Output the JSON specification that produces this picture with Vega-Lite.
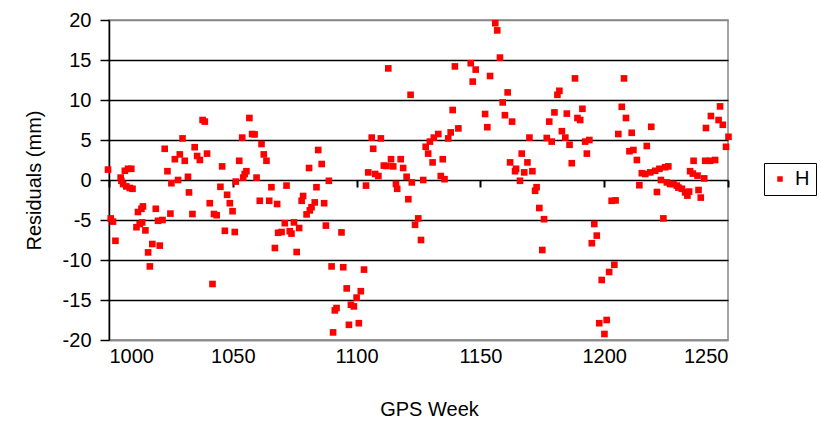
{
  "$schema": "https://vega.github.io/schema/vega-lite/v6.json",
  "width": 619,
  "height": 320,
  "autosize": {"type": "none"},
  "padding": {"left": 109, "top": 20, "right": 93, "bottom": 84},
  "background": "#ffffff",
  "config": {
    "font": "Liberation Sans",
    "view": {"stroke": "#888888", "strokeWidth": 1.5}
  },
  "data": {
    "values": [
      {"week": 999.6, "res": 1.3, "series": "H"},
      {"week": 1000.7, "res": -4.8, "series": "H"},
      {"week": 1001.6, "res": -5.2, "series": "H"},
      {"week": 1002.6, "res": -7.6, "series": "H"},
      {"week": 1004.7, "res": 0.3, "series": "H"},
      {"week": 1005.0, "res": -0.1, "series": "H"},
      {"week": 1005.7, "res": -0.5, "series": "H"},
      {"week": 1006.4, "res": 1.15, "series": "H"},
      {"week": 1007.0, "res": -0.8, "series": "H"},
      {"week": 1007.7, "res": 1.4, "series": "H"},
      {"week": 1008.4, "res": -1.0, "series": "H"},
      {"week": 1009.0, "res": 1.4, "series": "H"},
      {"week": 1009.5, "res": -1.1, "series": "H"},
      {"week": 1011.1, "res": -5.9, "series": "H"},
      {"week": 1011.7, "res": -4.0, "series": "H"},
      {"week": 1012.4, "res": -5.5, "series": "H"},
      {"week": 1013.1, "res": -3.6, "series": "H"},
      {"week": 1013.4, "res": -5.3, "series": "H"},
      {"week": 1013.7, "res": -3.3, "series": "H"},
      {"week": 1014.7, "res": -6.3, "series": "H"},
      {"week": 1015.8, "res": -9.05, "series": "H"},
      {"week": 1016.5, "res": -10.8, "series": "H"},
      {"week": 1017.5, "res": -8.0, "series": "H"},
      {"week": 1018.9, "res": -3.6, "series": "H"},
      {"week": 1019.8, "res": -5.1, "series": "H"},
      {"week": 1020.5, "res": -8.2, "series": "H"},
      {"week": 1021.6, "res": -5.0, "series": "H"},
      {"week": 1022.5, "res": 3.9, "series": "H"},
      {"week": 1023.6, "res": 1.1, "series": "H"},
      {"week": 1024.8, "res": -4.2, "series": "H"},
      {"week": 1025.2, "res": -0.4, "series": "H"},
      {"week": 1026.6, "res": 2.6, "series": "H"},
      {"week": 1027.9, "res": 0.0, "series": "H"},
      {"week": 1028.6, "res": 3.2, "series": "H"},
      {"week": 1029.7, "res": 5.2, "series": "H"},
      {"week": 1030.6, "res": 2.4, "series": "H"},
      {"week": 1031.9, "res": 0.4, "series": "H"},
      {"week": 1032.3, "res": -1.55, "series": "H"},
      {"week": 1033.7, "res": -4.25, "series": "H"},
      {"week": 1034.6, "res": 4.1, "series": "H"},
      {"week": 1035.6, "res": 3.0, "series": "H"},
      {"week": 1036.7, "res": 2.5, "series": "H"},
      {"week": 1037.8, "res": 7.5, "series": "H"},
      {"week": 1038.7, "res": 7.3, "series": "H"},
      {"week": 1039.6, "res": 3.3, "series": "H"},
      {"week": 1040.7, "res": -2.9, "series": "H"},
      {"week": 1041.8, "res": -13.0, "series": "H"},
      {"week": 1042.4, "res": -4.25, "series": "H"},
      {"week": 1043.5, "res": -4.4, "series": "H"},
      {"week": 1045.0, "res": -0.85, "series": "H"},
      {"week": 1045.7, "res": 1.7, "series": "H"},
      {"week": 1046.8, "res": -6.35, "series": "H"},
      {"week": 1047.7, "res": -1.85, "series": "H"},
      {"week": 1048.8, "res": -2.9, "series": "H"},
      {"week": 1049.9, "res": -3.9, "series": "H"},
      {"week": 1050.8, "res": -6.5, "series": "H"},
      {"week": 1051.2, "res": -0.2, "series": "H"},
      {"week": 1052.6, "res": 2.4, "series": "H"},
      {"week": 1053.8, "res": 5.3, "series": "H"},
      {"week": 1054.2, "res": 0.3, "series": "H"},
      {"week": 1054.8, "res": 0.75, "series": "H"},
      {"week": 1055.5, "res": 1.1, "series": "H"},
      {"week": 1056.7, "res": 7.75, "series": "H"},
      {"week": 1057.8, "res": 5.75, "series": "H"},
      {"week": 1058.8, "res": 5.7, "series": "H"},
      {"week": 1059.6, "res": 0.3, "series": "H"},
      {"week": 1060.9, "res": -2.6, "series": "H"},
      {"week": 1061.6, "res": 4.5, "series": "H"},
      {"week": 1062.5, "res": 3.2, "series": "H"},
      {"week": 1063.6, "res": 2.4, "series": "H"},
      {"week": 1064.7, "res": -2.6, "series": "H"},
      {"week": 1065.6, "res": -0.9, "series": "H"},
      {"week": 1067.0, "res": -8.5, "series": "H"},
      {"week": 1067.9, "res": -3.0, "series": "H"},
      {"week": 1068.3, "res": -6.6, "series": "H"},
      {"week": 1069.7, "res": -6.5, "series": "H"},
      {"week": 1071.0, "res": -5.4, "series": "H"},
      {"week": 1071.7, "res": -0.7, "series": "H"},
      {"week": 1073.0, "res": -6.4, "series": "H"},
      {"week": 1073.7, "res": -6.7, "series": "H"},
      {"week": 1074.7, "res": -5.3, "series": "H"},
      {"week": 1075.8, "res": -9.0, "series": "H"},
      {"week": 1076.8, "res": -6.0, "series": "H"},
      {"week": 1077.8, "res": -2.6, "series": "H"},
      {"week": 1078.4, "res": -2.0, "series": "H"},
      {"week": 1079.8, "res": -4.3, "series": "H"},
      {"week": 1080.8, "res": 1.5, "series": "H"},
      {"week": 1081.1, "res": -3.8, "series": "H"},
      {"week": 1081.8, "res": -3.4, "series": "H"},
      {"week": 1083.1, "res": -2.8, "series": "H"},
      {"week": 1083.8, "res": -0.9, "series": "H"},
      {"week": 1084.5, "res": 3.75, "series": "H"},
      {"week": 1085.9, "res": 2.0, "series": "H"},
      {"week": 1086.9, "res": -2.9, "series": "H"},
      {"week": 1087.6, "res": -5.7, "series": "H"},
      {"week": 1088.8, "res": -0.1, "series": "H"},
      {"week": 1089.9, "res": -10.8, "series": "H"},
      {"week": 1090.5, "res": -19.05, "series": "H"},
      {"week": 1091.2, "res": -16.3, "series": "H"},
      {"week": 1091.9, "res": -16.0, "series": "H"},
      {"week": 1093.9, "res": -6.55, "series": "H"},
      {"week": 1094.6, "res": -10.9, "series": "H"},
      {"week": 1096.0, "res": -13.55, "series": "H"},
      {"week": 1096.9, "res": -18.1, "series": "H"},
      {"week": 1097.7, "res": -15.6, "series": "H"},
      {"week": 1098.9, "res": -15.8, "series": "H"},
      {"week": 1100.0, "res": -14.7, "series": "H"},
      {"week": 1100.9, "res": -17.9, "series": "H"},
      {"week": 1101.7, "res": -13.9, "series": "H"},
      {"week": 1103.0, "res": -11.2, "series": "H"},
      {"week": 1103.8, "res": -0.7, "series": "H"},
      {"week": 1104.7, "res": 0.95, "series": "H"},
      {"week": 1106.1, "res": 5.3, "series": "H"},
      {"week": 1106.7, "res": 3.9, "series": "H"},
      {"week": 1107.5, "res": 0.75, "series": "H"},
      {"week": 1108.8, "res": 0.5, "series": "H"},
      {"week": 1109.8, "res": 5.2, "series": "H"},
      {"week": 1111.0, "res": 1.8, "series": "H"},
      {"week": 1112.1, "res": 1.75, "series": "H"},
      {"week": 1112.8, "res": 13.95, "series": "H"},
      {"week": 1113.9, "res": 2.6, "series": "H"},
      {"week": 1114.8, "res": 1.7, "series": "H"},
      {"week": 1115.9, "res": -0.5, "series": "H"},
      {"week": 1116.4, "res": -1.1, "series": "H"},
      {"week": 1117.8, "res": 2.6, "series": "H"},
      {"week": 1118.8, "res": 1.5, "series": "H"},
      {"week": 1120.2, "res": 0.4, "series": "H"},
      {"week": 1120.9, "res": -2.4, "series": "H"},
      {"week": 1121.8, "res": 10.65, "series": "H"},
      {"week": 1122.3, "res": -0.3, "series": "H"},
      {"week": 1123.6, "res": -5.6, "series": "H"},
      {"week": 1124.9, "res": -4.8, "series": "H"},
      {"week": 1126.0, "res": -7.5, "series": "H"},
      {"week": 1126.9, "res": 0.0, "series": "H"},
      {"week": 1127.9, "res": 4.15, "series": "H"},
      {"week": 1128.9, "res": 3.3, "series": "H"},
      {"week": 1129.6, "res": 4.8, "series": "H"},
      {"week": 1130.7, "res": 2.2, "series": "H"},
      {"week": 1131.2, "res": 5.3, "series": "H"},
      {"week": 1133.0, "res": 5.75, "series": "H"},
      {"week": 1134.0, "res": 0.5, "series": "H"},
      {"week": 1134.8, "res": 2.6, "series": "H"},
      {"week": 1135.5, "res": 0.1, "series": "H"},
      {"week": 1137.0, "res": 5.2, "series": "H"},
      {"week": 1138.0, "res": 5.95, "series": "H"},
      {"week": 1138.8, "res": 8.75, "series": "H"},
      {"week": 1139.7, "res": 14.2, "series": "H"},
      {"week": 1141.1, "res": 6.45, "series": "H"},
      {"week": 1146.1, "res": 14.6, "series": "H"},
      {"week": 1146.9, "res": 12.3, "series": "H"},
      {"week": 1148.1, "res": 13.8, "series": "H"},
      {"week": 1151.9, "res": 8.25, "series": "H"},
      {"week": 1152.8, "res": 6.6, "series": "H"},
      {"week": 1153.9, "res": 13.0, "series": "H"},
      {"week": 1156.0, "res": 19.6, "series": "H"},
      {"week": 1156.8, "res": 18.7, "series": "H"},
      {"week": 1157.9, "res": 15.3, "series": "H"},
      {"week": 1159.0, "res": 9.7, "series": "H"},
      {"week": 1159.9, "res": 8.1, "series": "H"},
      {"week": 1161.0, "res": 10.95, "series": "H"},
      {"week": 1162.0, "res": 2.2, "series": "H"},
      {"week": 1162.8, "res": 7.3, "series": "H"},
      {"week": 1164.0, "res": 1.1, "series": "H"},
      {"week": 1164.4, "res": 1.4, "series": "H"},
      {"week": 1166.0, "res": -0.1, "series": "H"},
      {"week": 1166.7, "res": 3.3, "series": "H"},
      {"week": 1167.7, "res": 0.95, "series": "H"},
      {"week": 1169.0, "res": 2.2, "series": "H"},
      {"week": 1169.8, "res": 5.3, "series": "H"},
      {"week": 1171.0, "res": 1.1, "series": "H"},
      {"week": 1172.1, "res": -1.35, "series": "H"},
      {"week": 1172.7, "res": -0.9, "series": "H"},
      {"week": 1173.8, "res": -3.5, "series": "H"},
      {"week": 1175.0, "res": -8.75, "series": "H"},
      {"week": 1175.7, "res": -4.9, "series": "H"},
      {"week": 1176.8, "res": 5.25, "series": "H"},
      {"week": 1177.8, "res": 7.3, "series": "H"},
      {"week": 1178.8, "res": 4.8, "series": "H"},
      {"week": 1179.9, "res": 8.45, "series": "H"},
      {"week": 1181.1, "res": 10.65, "series": "H"},
      {"week": 1181.9, "res": 11.15, "series": "H"},
      {"week": 1182.9, "res": 6.1, "series": "H"},
      {"week": 1184.3, "res": 5.3, "series": "H"},
      {"week": 1184.9, "res": 8.3, "series": "H"},
      {"week": 1186.0, "res": 4.4, "series": "H"},
      {"week": 1186.9, "res": 2.1, "series": "H"},
      {"week": 1188.2, "res": 12.7, "series": "H"},
      {"week": 1189.2, "res": 7.75, "series": "H"},
      {"week": 1190.3, "res": 7.5, "series": "H"},
      {"week": 1191.2, "res": 8.9, "series": "H"},
      {"week": 1192.3, "res": 4.8, "series": "H"},
      {"week": 1193.0, "res": 3.3, "series": "H"},
      {"week": 1194.0, "res": 5.0, "series": "H"},
      {"week": 1195.0, "res": -7.9, "series": "H"},
      {"week": 1196.0, "res": -5.5, "series": "H"},
      {"week": 1197.0, "res": -6.95, "series": "H"},
      {"week": 1198.0, "res": -17.9, "series": "H"},
      {"week": 1199.0, "res": -12.5, "series": "H"},
      {"week": 1200.1, "res": -19.25, "series": "H"},
      {"week": 1201.0, "res": -17.5, "series": "H"},
      {"week": 1202.0, "res": -11.5, "series": "H"},
      {"week": 1203.0, "res": -2.6, "series": "H"},
      {"week": 1204.1, "res": -10.6, "series": "H"},
      {"week": 1204.6, "res": -2.55, "series": "H"},
      {"week": 1205.7, "res": 5.75, "series": "H"},
      {"week": 1207.1, "res": 9.15, "series": "H"},
      {"week": 1208.0, "res": 12.7, "series": "H"},
      {"week": 1208.8, "res": 7.75, "series": "H"},
      {"week": 1210.2, "res": 3.6, "series": "H"},
      {"week": 1211.1, "res": 5.9, "series": "H"},
      {"week": 1211.8, "res": 3.75, "series": "H"},
      {"week": 1213.2, "res": 2.5, "series": "H"},
      {"week": 1214.2, "res": -0.65, "series": "H"},
      {"week": 1215.2, "res": 0.85, "series": "H"},
      {"week": 1216.6, "res": 0.75, "series": "H"},
      {"week": 1217.2, "res": 4.25, "series": "H"},
      {"week": 1218.6, "res": 0.95, "series": "H"},
      {"week": 1219.0, "res": 6.65, "series": "H"},
      {"week": 1220.6, "res": 1.15, "series": "H"},
      {"week": 1221.3, "res": -1.5, "series": "H"},
      {"week": 1222.3, "res": 1.4, "series": "H"},
      {"week": 1222.9, "res": 0.0, "series": "H"},
      {"week": 1223.9, "res": -4.8, "series": "H"},
      {"week": 1224.6, "res": 1.6, "series": "H"},
      {"week": 1225.3, "res": -0.3, "series": "H"},
      {"week": 1225.9, "res": 1.7, "series": "H"},
      {"week": 1226.6, "res": -0.5, "series": "H"},
      {"week": 1228.0, "res": -0.5, "series": "H"},
      {"week": 1229.3, "res": -0.7, "series": "H"},
      {"week": 1230.0, "res": -0.95, "series": "H"},
      {"week": 1231.4, "res": -1.1, "series": "H"},
      {"week": 1232.7, "res": -1.55, "series": "H"},
      {"week": 1233.6, "res": -1.95, "series": "H"},
      {"week": 1234.3, "res": -1.45, "series": "H"},
      {"week": 1234.7, "res": 1.1, "series": "H"},
      {"week": 1235.8, "res": 0.8, "series": "H"},
      {"week": 1236.1, "res": 2.4, "series": "H"},
      {"week": 1237.7, "res": 0.55, "series": "H"},
      {"week": 1238.1, "res": -1.25, "series": "H"},
      {"week": 1239.0, "res": -2.2, "series": "H"},
      {"week": 1240.4, "res": 0.2, "series": "H"},
      {"week": 1240.8, "res": 2.4, "series": "H"},
      {"week": 1241.1, "res": 6.5, "series": "H"},
      {"week": 1242.8, "res": 2.4, "series": "H"},
      {"week": 1243.1, "res": 8.0, "series": "H"},
      {"week": 1244.8, "res": 2.5, "series": "H"},
      {"week": 1246.2, "res": 7.5, "series": "H"},
      {"week": 1246.8, "res": 9.2, "series": "H"},
      {"week": 1247.9, "res": 6.9, "series": "H"},
      {"week": 1249.2, "res": 4.15, "series": "H"},
      {"week": 1250.2, "res": 5.4, "series": "H"}
    ]
  },
  "layer": [
    {
      "mark": {"type": "point", "shape": "square", "filled": true, "size": 44, "opacity": 1},
      "encoding": {
        "x": {
          "field": "week",
          "type": "quantitative",
          "scale": {"domain": [1000, 1250], "nice": false, "zero": false},
          "axis": {
            "title": "GPS Week",
            "values": [1000, 1050, 1100, 1150, 1200, 1250],
            "labelExpr": "datum.value + ''",
            "grid": false,
            "ticks": false,
            "domainColor": "#888888",
            "domainWidth": 1.5,
            "labelFontSize": 20,
            "labelColor": "#000000",
            "labelPadding": 6,
            "titleFontSize": 20,
            "titleFontWeight": "normal",
            "titleColor": "#000000",
            "titlePadding": 33,
            "titleX": 320
          }
        },
        "y": {
          "field": "res",
          "type": "quantitative",
          "scale": {"domain": [-20, 20], "nice": false},
          "axis": {
            "title": "Residuals (mm)",
            "values": [-20, -15, -10, -5, 0, 5, 10, 15, 20],
            "labelExpr": "datum.value + ''",
            "grid": true,
            "gridColor": {"condition": {"test": "abs(datum.value) == 20", "value": "#888888"}, "value": "#000000"},
            "gridWidth": 1.5,
            "domainColor": "#000000",
            "domainWidth": 1.5,
            "tickColor": "#000000",
            "tickWidth": 1.5,
            "tickSize": 9,
            "labelFontSize": 20,
            "labelColor": "#000000",
            "labelPadding": 9,
            "titleFontSize": 20,
            "titleFontWeight": "normal",
            "titleColor": "#000000",
            "titlePadding": 18
          }
        },
        "color": {
          "field": "series",
          "type": "nominal",
          "scale": {"range": ["#ff0000"]},
          "legend": {
            "title": null,
            "orient": "none",
            "legendX": 655,
            "legendY": 143,
            "direction": "vertical",
            "strokeColor": "#000000",
            "fillColor": "#ffffff",
            "padding": 6,
            "symbolType": "square",
            "symbolSize": 30,
            "labelFontSize": 20,
            "labelColor": "#000000",
            "labelOffset": 5
          }
        }
      }
    },
    {
      "mark": {"type": "point", "opacity": 0},
      "encoding": {
        "x": {
          "field": "week",
          "type": "quantitative",
          "axis": {
            "orient": "top",
            "offset": -167,
            "values": [1000, 1050, 1100, 1150, 1200, 1250],
            "labels": false,
            "domain": false,
            "grid": false,
            "ticks": true,
            "tickColor": "#000000",
            "tickWidth": 2,
            "tickSize": 7,
            "title": null
          }
        },
        "y": {
          "field": "res",
          "type": "quantitative",
          "axis": {
            "title": "Residuals (mm)",
            "values": [-20, -15, -10, -5, 0, 5, 10, 15, 20],
            "labelExpr": "datum.value + ''",
            "grid": true,
            "gridColor": {"condition": {"test": "abs(datum.value) == 20", "value": "#888888"}, "value": "#000000"},
            "gridWidth": 1.5,
            "domainColor": "#000000",
            "domainWidth": 1.5,
            "tickColor": "#000000",
            "tickWidth": 1.5,
            "tickSize": 9,
            "labelFontSize": 20,
            "labelColor": "#000000",
            "labelPadding": 9,
            "titleFontSize": 20,
            "titleFontWeight": "normal",
            "titleColor": "#000000",
            "titlePadding": 18
          }
        }
      }
    }
  ],
  "resolve": {"axis": {"x": "independent"}}
}
